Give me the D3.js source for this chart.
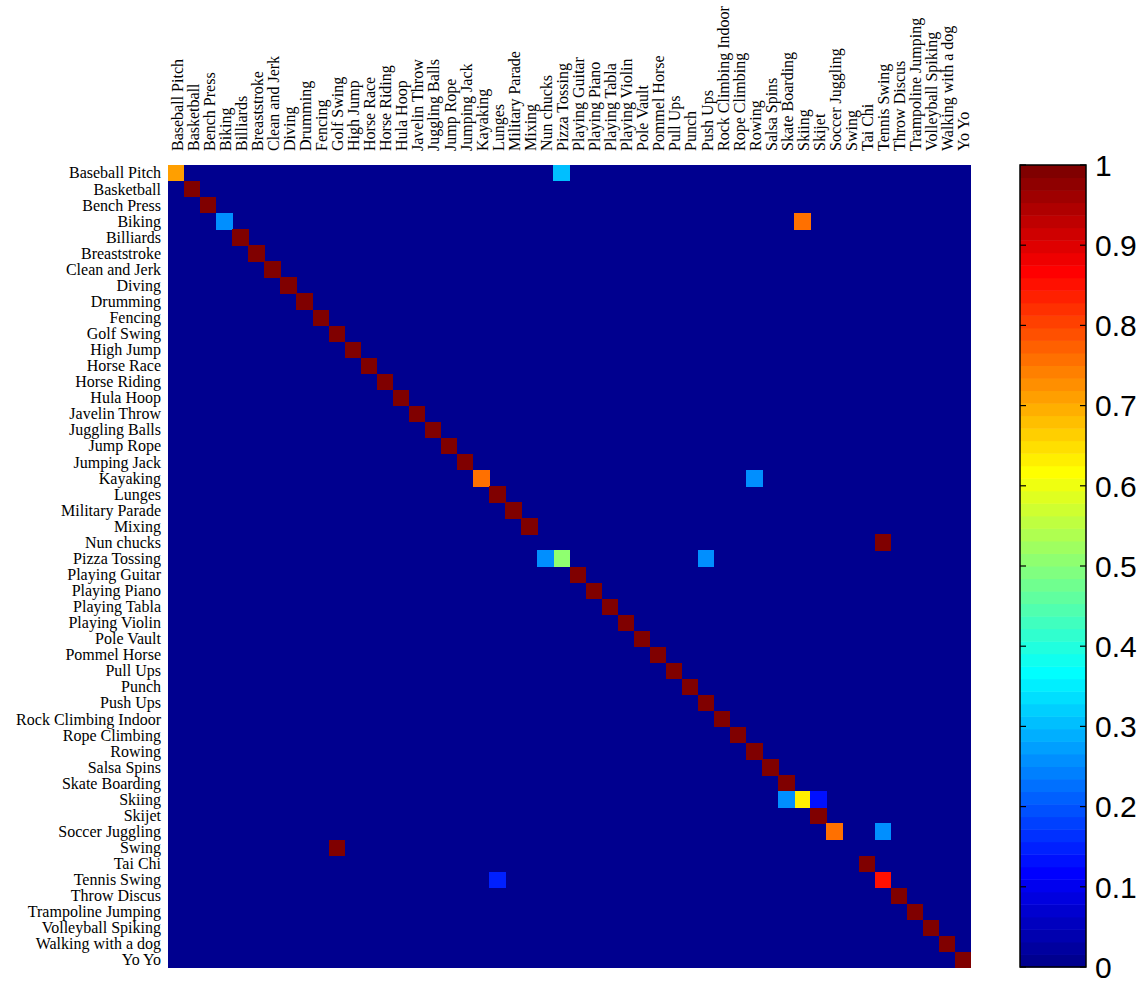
<!DOCTYPE html>
<html>
<head>
<meta charset="utf-8">
<script src="https://cdn.jsdelivr.net/npm/d3@7"></script>
<style>
  html, body { margin: 0; padding: 0; background: #fff; }
  svg { display: block; }
</style>
</head>
<body>
<svg id="chart" width="1146" height="982"></svg>
<script>
// Action classes (rows = true class, columns = predicted class)
const classes = [
  "Baseball Pitch", "Basketball", "Bench Press", "Biking", "Billiards",
  "Breaststroke", "Clean and Jerk", "Diving", "Drumming", "Fencing",
  "Golf Swing", "High Jump", "Horse Race", "Horse Riding", "Hula Hoop",
  "Javelin Throw", "Juggling Balls", "Jump Rope", "Jumping Jack", "Kayaking",
  "Lunges", "Military Parade", "Mixing", "Nun chucks", "Pizza Tossing",
  "Playing Guitar", "Playing Piano", "Playing Tabla", "Playing Violin", "Pole Vault",
  "Pommel Horse", "Pull Ups", "Punch", "Push Ups", "Rock Climbing Indoor",
  "Rope Climbing", "Rowing", "Salsa Spins", "Skate Boarding", "Skiing",
  "Skijet", "Soccer Juggling", "Swing", "Tai Chi", "Tennis Swing",
  "Throw Discus", "Trampoline Jumping", "Volleyball Spiking", "Walking with a dog", "Yo Yo"
];

// Per-class recognition rate (diagonal of the confusion matrix)
const diagonalRates = [
  0.71, 1, 1, 0.25, 1,
  1, 1, 1, 1, 1,
  1, 1, 1, 1, 1,
  1, 1, 1, 1, 0.75,
  1, 1, 1, 0, 0.5,
  1, 1, 1, 1, 1,
  1, 1, 1, 1, 1,
  1, 1, 1, 1, 0.625,
  1, 0.75, 0, 1, 0.857,
  1, 1, 1, 1, 1
];

// Off-diagonal confusions: [true class, predicted class, rate]
const confusions = [
  ["Baseball Pitch", "Pizza Tossing", 0.3],
  ["Biking", "Skiing", 0.75],
  ["Kayaking", "Rowing", 0.25],
  ["Nun chucks", "Tennis Swing", 1],
  ["Pizza Tossing", "Nun chucks", 0.25],
  ["Pizza Tossing", "Push Ups", 0.25],
  ["Skiing", "Skate Boarding", 0.25],
  ["Skiing", "Skijet", 0.125],
  ["Soccer Juggling", "Tennis Swing", 0.25],
  ["Swing", "Golf Swing", 1],
  ["Tennis Swing", "Lunges", 0.143]
];

const colorbarTicks = [0, 0.1, 0.2, 0.3, 0.4, 0.5, 0.6, 0.7, 0.8, 0.9, 1];

// ---- 64-level jet colormap ----
function jetColormap(m) {
  const n = Math.ceil(m / 4);
  const u = [];
  for (let i = 1; i <= n; i++) u.push(i / n);
  for (let i = 1; i < n; i++) u.push(1);
  for (let i = n; i >= 1; i--) u.push(i / n);
  const base = Math.ceil(n / 2) - (m % 4 === 1 ? 1 : 0);
  const J = Array.from({length: m}, () => [0, 0, 0]);
  const g = u.map((_, i) => base + i + 1);
  const r = g.map(v => v + n).filter(v => v <= m);
  const b = g.map(v => v - n).filter(v => v >= 1);
  const gg = g.filter(v => v <= m);
  r.forEach((row, i) => J[row - 1][0] = u[i]);
  gg.forEach((row, i) => J[row - 1][1] = u[i]);
  b.forEach((row, i) => J[row - 1][2] = u[u.length - b.length + i]);
  return J.map(c => d3.rgb(c[0] * 255, c[1] * 255, c[2] * 255).toString());
}
const jet = jetColormap(64);
const color = d3.scaleQuantize().domain([0, 1]).range(jet);

// ---- build cell list ----
const cells = [];
classes.forEach((c, i) => cells.push({row: c, col: c, value: diagonalRates[i]}));
confusions.forEach(([r, c, v]) => cells.push({row: r, col: c, value: v}));

const svg = d3.select("#chart");

const matrix = {left: 168, top: 165, size: 803};
const x = d3.scaleBand().domain(classes).range([matrix.left, matrix.left + matrix.size]);
const y = d3.scaleBand().domain(classes).range([matrix.top, matrix.top + matrix.size]);

// background = zero rate
svg.append("rect")
  .attr("x", matrix.left).attr("y", matrix.top)
  .attr("width", matrix.size).attr("height", matrix.size)
  .attr("fill", color(0));

svg.append("g").selectAll("rect")
  .data(cells.filter(d => d.value > 0))
  .join("rect")
  .attr("x", d => x(d.col))
  .attr("y", d => y(d.row))
  .attr("width", x.bandwidth() + 0.3)
  .attr("height", y.bandwidth() + 0.3)
  .attr("fill", d => color(d.value))
  .attr("shape-rendering", "crispEdges");

const labelFont = "'Liberation Serif', 'Times New Roman', serif";

// row labels
svg.append("g").selectAll("text")
  .data(classes)
  .join("text")
  .attr("x", matrix.left - 7)
  .attr("y", d => y(d) + y.bandwidth() / 2)
  .attr("dy", "0.34em")
  .attr("text-anchor", "end")
  .attr("font-family", labelFont)
  .attr("font-size", 16)
  .attr("fill", "#000")
  .text(d => d);

// column labels (vertical)
svg.append("g").selectAll("text")
  .data(classes)
  .join("text")
  .attr("transform", d => `translate(${x(d) + x.bandwidth() / 2 + 6.5},151) rotate(-90)`)
  .attr("text-anchor", "start")
  .attr("font-family", labelFont)
  .attr("font-size", 16)
  .attr("fill", "#000")
  .text(d => d);

// ---- colorbar ----
const cb = {left: 1020, top: 165, width: 66, height: 802};
const cy = d3.scaleLinear().domain([0, 1]).range([cb.top + cb.height, cb.top]);
const levels = d3.range(jet.length).map(i => ({lo: i / jet.length, hi: (i + 1) / jet.length, c: jet[i]}));

svg.append("g").selectAll("rect")
  .data(levels)
  .join("rect")
  .attr("x", cb.left)
  .attr("y", d => cy(d.hi))
  .attr("width", cb.width)
  .attr("height", d => cy(d.lo) - cy(d.hi) + 0.5)
  .attr("fill", d => d.c);

const cbAxis = svg.append("g");
colorbarTicks.forEach(t => {
  cbAxis.append("line")
    .attr("x1", cb.left).attr("x2", cb.left + 6)
    .attr("y1", cy(t)).attr("y2", cy(t))
    .attr("stroke", "#000").attr("stroke-width", 1.2);
  cbAxis.append("line")
    .attr("x1", cb.left + cb.width - 6).attr("x2", cb.left + cb.width)
    .attr("y1", cy(t)).attr("y2", cy(t))
    .attr("stroke", "#000").attr("stroke-width", 1.2);
  cbAxis.append("text")
    .attr("x", cb.left + cb.width + 9)
    .attr("y", cy(t))
    .attr("dy", "0.36em")
    .attr("font-family", "'Liberation Sans', Arial, Helvetica, sans-serif")
    .attr("font-size", 30)
    .attr("fill", "#000")
    .text(d3.format("~g")(t));
});

svg.append("rect")
  .attr("x", cb.left).attr("y", cb.top)
  .attr("width", cb.width).attr("height", cb.height)
  .attr("fill", "none").attr("stroke", "#000").attr("stroke-width", 1.5);
</script>
</body>
</html>
